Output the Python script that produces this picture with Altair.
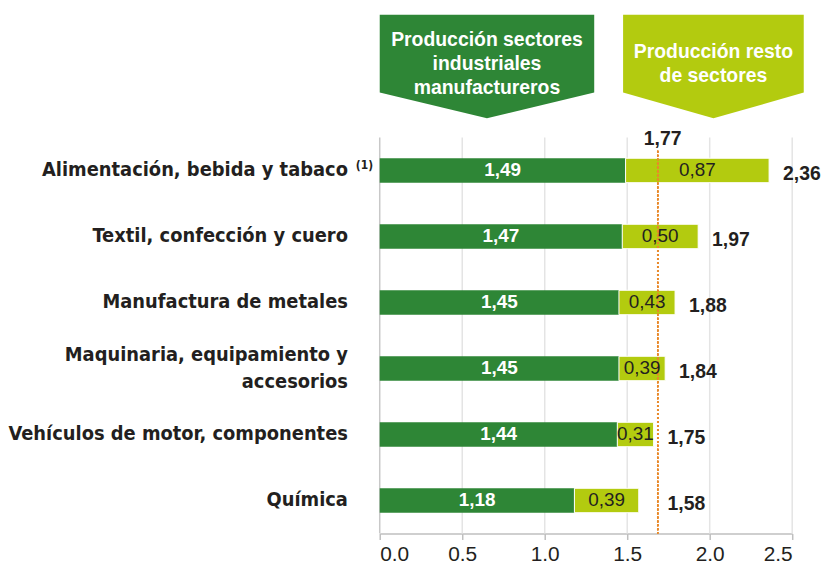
import altair as alt
import pandas as pd

# ---------------- data ----------------
categories = [
    "Alimentación, bebida y tabaco",
    "Textil, confección y cuero",
    "Manufactura de metales",
    "Maquinaria, equipamiento y\naccesorios",
    "Vehículos de motor, componentes",
    "Química",
]
manufacturing = [1.49, 1.47, 1.45, 1.45, 1.44, 1.18]
rest_drawn = [0.87, 0.46, 0.34, 0.28, 0.22, 0.39]
rest_labels = ["0,87", "0,50", "0,43", "0,39", "0,31", "0,39"]
total_labels = ["2,36", "1,97", "1,88", "1,84", "1,75", "1,58"]
footnote = "(1)"

reference_value = 1.685
reference_label = "1,77"

x_ticks = [0.0, 0.5, 1.0, 1.5, 2.0, 2.5]

header_names = ["manuf", "resto"]
header_texts = ["Producción sectores\nindustriales\nmanufactureros", "Producción resto\nde sectores"]
header_x0 = [0.0, 1.475]
header_x1 = [1.30, 2.57]

GREEN = "#2E8636"
LIME = "#B3CB0F"
DARK = "#231F20"

# ---------------- frames ----------------
df = pd.DataFrame({
    "cat": categories,
    "idx": list(range(len(categories))),
    "manuf": manufacturing,
    "resto": rest_drawn,
    "resto_label": rest_labels,
    "total_label": total_labels,
})

Y_TOP, Y_BOT = -2.36, 5.5
SIDE, TIP = -1.18, -0.79
LINE_UNITS = 24 / 66.4  # header line height in row units
hdr_rows = []
for n, a, b in zip(header_names, header_x0, header_x1):
    hdr_rows += [
        {"name": n, "x": a, "top": Y_TOP, "bot": SIDE},
        {"name": n, "x": (a + b) / 2, "top": Y_TOP, "bot": TIP},
        {"name": n, "x": b, "top": Y_TOP, "bot": SIDE},
    ]
hdr = pd.DataFrame(hdr_rows)
hdr_txt = pd.DataFrame({
    "name": header_names,
    "text": header_texts,
    "cx": [(a + b) / 2 for a, b in zip(header_x0, header_x1)],
    "nl": [t.count("\n") for t in header_texts],
})
grid = pd.DataFrame({"v": x_ticks})

xs = alt.Scale(domain=[0, 2.5], nice=False, zero=False)
ys = alt.Scale(domain=[Y_TOP, Y_BOT], reverse=True, nice=False, zero=False)
XAX = alt.Axis(values=x_ticks, format=".1f", title=None)

base = alt.Chart(df).transform_calculate(
    zero="0",
    y0="datum.idx - 0.185",
    y1="datum.idx + 0.185",
    end="datum.manuf + datum.resto",
    gmid="datum.manuf / 2",
    rmid="datum.manuf + datum.resto / 2",
    tpos="max(datum.manuf + datum.resto, 1.66)",
    mlabel="replace(format(datum.manuf, '.2f'), '.', ',')",
)

gridlines = alt.Chart(grid).mark_rule(strokeWidth=1.5).encode(
    x=alt.X("v:Q", scale=xs, axis=XAX),
    y=alt.datum(-0.5, scale=ys, axis=None),
    y2=alt.datum(Y_BOT),
    color=alt.condition("datum.v == 0", alt.value("#c8c8c8"), alt.value("#e4e4e4")),
)

headers = alt.Chart(hdr).mark_area(orient="vertical").encode(
    x=alt.X("x:Q", scale=xs, axis=XAX),
    y=alt.Y("top:Q", scale=ys, axis=None),
    y2="bot:Q",
    color=alt.Color("name:N", scale=alt.Scale(domain=header_names, range=[GREEN, LIME]), legend=None),
    detail="name:N",
)

header_text = alt.Chart(hdr_txt).transform_calculate(
    ty=f"-1.61 - datum.nl * {LINE_UNITS} / 2"
).mark_text(
    font="Liberation Sans", fontWeight="bold", fontSize=19.5, color="white",
    lineBreak="\n", lineHeight=24, baseline="middle", align="center",
).encode(
    x=alt.X("cx:Q", scale=xs, axis=XAX),
    y=alt.Y("ty:Q", scale=ys, axis=None),
    text="text:N",
)

bar_green = base.mark_rect(color=GREEN).encode(
    x=alt.X("zero:Q", scale=xs, axis=XAX),
    x2="manuf:Q",
    y=alt.Y("y0:Q", scale=ys, axis=None),
    y2="y1:Q",
)
bar_lime = base.mark_rect(color=LIME, stroke="white", strokeWidth=1).encode(
    x=alt.X("manuf:Q", scale=xs, axis=XAX),
    x2="end:Q",
    y=alt.Y("y0:Q", scale=ys, axis=None),
    y2="y1:Q",
)

ref_rule = alt.Chart(df).mark_rule(color="#E8892B", strokeDash=[2, 2], strokeWidth=1.5).encode(
    x=alt.datum(reference_value, scale=xs, axis=XAX),
    y=alt.datum(-0.3, scale=ys, axis=None),
    y2=alt.datum(Y_BOT),
)
ref_text = alt.Chart(pd.DataFrame({"t": [reference_label]})).mark_text(
    font="Liberation Sans", fontWeight="bold", fontSize=19.5, color=DARK, dx=5, baseline="middle",
).encode(
    x=alt.datum(reference_value, scale=xs, axis=XAX),
    y=alt.datum(-0.48, scale=ys, axis=None),
    text="t:N",
)

green_text = base.mark_text(
    font="Liberation Sans", fontWeight="bold", fontSize=19, color="white", baseline="middle",
).encode(
    x=alt.X("gmid:Q", scale=xs, axis=XAX),
    y=alt.Y("idx:Q", scale=ys, axis=None),
    text="mlabel:N",
)
lime_text = base.mark_text(
    font="Liberation Sans", fontSize=19, color=DARK, baseline="middle",
).encode(
    x=alt.X("rmid:Q", scale=xs, axis=XAX),
    y=alt.Y("idx:Q", scale=ys, axis=None),
    text="resto_label:N",
)
total_text = base.mark_text(
    font="Liberation Sans", fontWeight="bold", fontSize=19.5, color=DARK,
    align="left", baseline="middle", dx=14, dy=4,
).encode(
    x=alt.X("tpos:Q", scale=xs, axis=XAX),
    y=alt.Y("idx:Q", scale=ys, axis=None),
    text="total_label:N",
)

cat_text = alt.Chart(df).transform_calculate(
    ly="datum.idx - (length(split(datum.cat, '\\n')) - 1) * 0.21"
).mark_text(
    font="DejaVu Sans Condensed", fontWeight="bold", fontSize=20, color=DARK,
    align="right", baseline="middle", lineBreak="\n", lineHeight=28,
).encode(
    x=alt.value(-32),
    y=alt.Y("ly:Q", scale=ys, axis=None),
    text="cat:N",
)
foot_text = alt.Chart(df.iloc[[0]]).mark_text(
    font="DejaVu Sans Condensed", fontWeight="bold", fontSize=12, color=DARK,
    align="left", baseline="middle", dy=-5,
).encode(
    x=alt.value(-24),
    y=alt.Y("idx:Q", scale=ys, axis=None),
    text=alt.value(footnote),
)

chart = alt.layer(
    gridlines, headers, header_text, bar_green, bar_lime, ref_rule, ref_text,
    green_text, lime_text, total_text, cat_text, foot_text,
).properties(
    width=415, height=522,
    padding={"left": 0, "top": 5, "right": 5, "bottom": 5},
).configure_view(stroke=None).configure_axis(
    grid=False,
    labelFont="Liberation Sans", labelFontSize=21, labelColor=DARK,
    domainColor="#bfbfbf", domainWidth=1.5, tickColor="#bfbfbf", tickWidth=1.5, tickSize=6,
    labelPadding=4,
)

chart.save("out.html", embed_options={"renderer": "svg", "actions": False})
